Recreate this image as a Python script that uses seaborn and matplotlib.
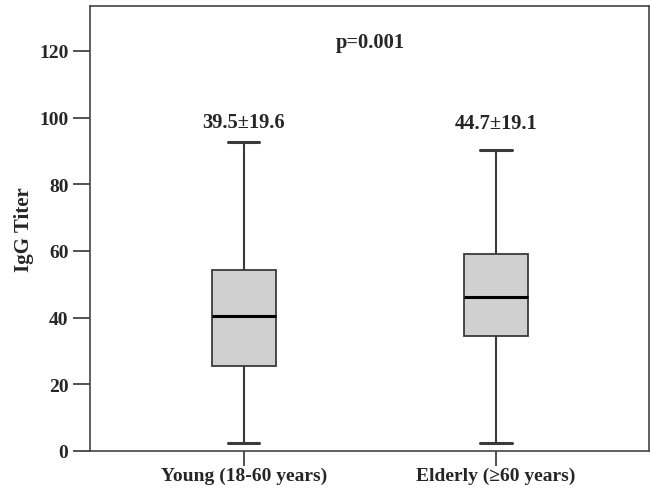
import pandas as pd
import numpy as np
import matplotlib.pyplot as plt
import seaborn as sns

# Resumen de cada grupo: minimo, Q1, mediana, Q3, maximo
groups = ["Young (18-60 years)", "Elderly (\u226560 years)"]
young_vals = [2.3, 25.6, 40.6, 54.3, 92.8]
elderly_vals = [2.3, 34.4, 46.1, 59.0, 90.3]
mean_sd_labels = ["39.5\u00b119.6", "44.7\u00b119.1"]
label_y = [98.7, 98.5]
p_text = "p=0.001"

df = pd.DataFrame({
    "group": [groups[0]] * len(young_vals) + [groups[1]] * len(elderly_vals),
    "titer": young_vals + elderly_vals,
})

sns.set_style("white")
plt.rcParams["font.family"] = ["Liberation Serif", "DejaVu Serif"]
plt.rcParams["font.weight"] = "bold"

fig = plt.figure(figsize=(6.51, 4.89), dpi=100)
ax = fig.add_axes([90 / 651, 1 - 452 / 489, 559 / 651, 445 / 489])

edge = "#3a3a3a"
sns.boxplot(
    data=df, x="group", y="titer", order=groups,
    whis=np.inf, width=0.254, color="#d0d0d0", saturation=1,
    linecolor=edge, linewidth=1.3,
    medianprops={"color": "black", "linewidth": 2.2},
    capprops={"linewidth": 2.2, "color": edge},
    whiskerprops={"linewidth": 1.5, "color": edge},
    ax=ax,
)
# cap width ~ half the box
for line in ax.lines:
    xd = line.get_xdata()
    if len(xd) == 2 and xd[0] != xd[1]:
        c = (xd[0] + xd[1]) / 2
        lw = line.get_linewidth()
        if abs(lw - 2.2) < 0.01 and line.get_color() != "black":
            line.set_xdata([c - 0.062, c + 0.062])

ax.set_xlim(-0.61, 1.607)
ax.set_ylim(0, 133.5)
ax.set_yticks([0, 20, 40, 60, 80, 100, 120])
ax.set_xlabel("")
ax.set_ylabel("IgG Titer", fontsize=15, fontweight="bold", labelpad=4)

for i, txt in enumerate(mean_sd_labels):
    ax.text(i, label_y[i], txt, ha="center", va="center", fontsize=14.8, fontweight="bold")
ax.text(0.5, 122.7, p_text, ha="center", va="center", fontsize=14.8, fontweight="bold")

for s in ax.spines.values():
    s.set_visible(True)
    s.set_color("#444444")
    s.set_linewidth(1.2)

ax.tick_params(axis="both", direction="out", length=12.5, width=1.3, color="#444444",
               labelsize=14, bottom=True, left=True)
ax.tick_params(axis="x", length=11, labelsize=14, pad=0.5)
ax.tick_params(axis="y", pad=3)
for lab in ax.get_xticklabels() + ax.get_yticklabels():
    lab.set_fontweight("bold")

plt.savefig("out.png", dpi=100)
